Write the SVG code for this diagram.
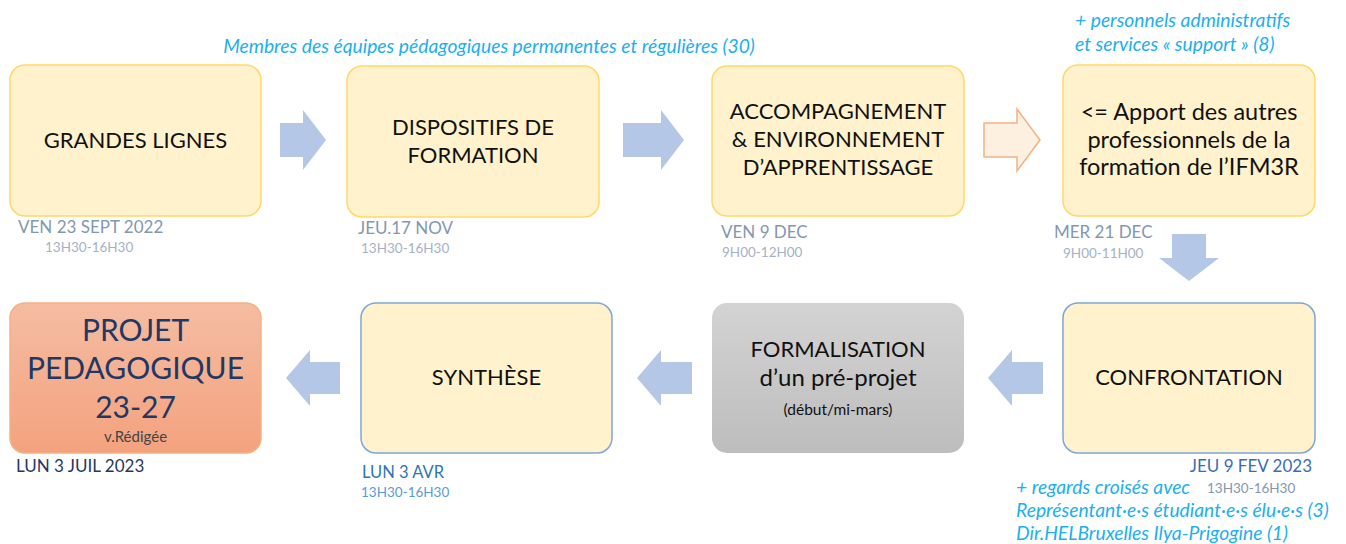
<svg xmlns="http://www.w3.org/2000/svg" width="1346" height="544" viewBox="0 0 1346 544">
<defs>
<linearGradient id="gOr" x1="0" y1="0" x2="0" y2="1"><stop offset="0" stop-color="#F5BCA2"/><stop offset="1" stop-color="#F4A27E"/></linearGradient>
<linearGradient id="gGr" x1="0" y1="0" x2="0" y2="1"><stop offset="0" stop-color="#D3D3D3"/><stop offset="1" stop-color="#BDBDBD"/></linearGradient>
<style>
text{font-family:Lato,"Liberation Sans",sans-serif}
.box{fill:#FFF2CC;stroke:#FFD966;stroke-width:1.5}
.boxb{fill:#FFF2CC;stroke:#7EA6D8;stroke-width:1.5}
.arr{fill:#B4C7E7}
.t{font-size:22px;fill:#111;text-anchor:middle}
.m{font-size:23.5px}
.date{font-size:17px;fill:#8497B0}
.time{font-size:13.5px;fill:#A6B2C4}
.note{font-size:19.3px;fill:#1CB0EE;font-style:italic}
</style>
</defs>
<rect width="1346" height="544" fill="#fff"/>
<g id="connectors">
<path class="arr" d="M280,123 H303 V110 L326,140 L303,170 V157 H280 Z"/>
<path class="arr" d="M623,123 H661 V110 L684,140 L661,170 V157 H623 Z"/>
<path d="M984,123 H1017 V109 L1040,140 L1017,171 V157 H984 Z" fill="#FDF0E0" stroke="#F4B183" stroke-width="1.5"/>
<path class="arr" d="M1172,234 H1206 V258 H1219 L1189,281 L1159,258 H1172 Z"/>
<path class="arr" d="M1043,362 H1012 V350 L988,378 L1012,406 V394 H1043 Z"/>
<path class="arr" d="M692,362 H661 V350 L637,378 L661,406 V394 H692 Z"/>
<path class="arr" d="M340,362 H310 V350 L286,378 L310,406 V394 H340 Z"/>
</g>
<text class="note" x="489" y="53" text-anchor="middle">Membres des équipes pédagogiques permanentes et régulières (30)</text>
<text class="note" x="1075" y="27">+ personnels administratifs</text>
<text class="note" x="1075" y="51">et services « support » (8)</text>
<g id="n1">
<rect class="box" x="10" y="65" width="251" height="151" rx="15"/>
<text class="t" x="135.5" y="148">GRANDES LIGNES</text>
<text class="date" x="18" y="233">VEN 23 SEPT 2022</text>
<text class="time" x="45" y="252">13H30-16H30</text>
</g>
<g id="n2">
<rect class="box" x="347" y="66" width="252" height="151" rx="15"/>
<text class="t" x="473" y="135">DISPOSITIFS DE</text>
<text class="t" x="473" y="163">FORMATION</text>
<text class="date" x="358" y="234">JEU.17 NOV</text>
<text class="time" x="361" y="253">13H30-16H30</text>
</g>
<g id="n3">
<rect class="box" x="712" y="66" width="252" height="150" rx="15"/>
<text class="t" x="838" y="119">ACCOMPAGNEMENT</text>
<text class="t" x="838" y="147">&amp; ENVIRONNEMENT</text>
<text class="t" x="838" y="175">D’APPRENTISSAGE</text>
<text class="date" x="721" y="238">VEN 9 DEC</text>
<text class="time" x="722" y="257">9H00-12H00</text>
</g>
<g id="n4">
<rect class="box" x="1063" y="65" width="252" height="151" rx="15"/>
<text class="t m" x="1189" y="120">&lt;= Apport des autres</text>
<text class="t m" x="1189" y="148">professionnels de la</text>
<text class="t m" x="1189" y="175">formation de l’IFM3R</text>
<text class="date" x="1054" y="238">MER 21 DEC</text>
<text class="time" x="1063" y="258">9H00-11H00</text>
</g>
<g id="n5">
<rect x="10" y="303" width="251" height="150" rx="15" fill="url(#gOr)" stroke="#F4B183" stroke-width="1.5"/>
<text class="t" x="135.5" y="341" style="font-size:30px;fill:#1F3864">PROJET</text>
<text class="t" x="135.5" y="379" style="font-size:30px;fill:#1F3864">PEDAGOGIQUE</text>
<text class="t" x="135.5" y="418" style="font-size:30px;fill:#1F3864">23-27</text>
<text class="t" x="135.5" y="442" style="font-size:15px;fill:#444">v.Rédigée</text>
<text class="date" x="16" y="472" style="fill:#1F3864">LUN 3 JUIL 2023</text>
</g>
<g id="n6">
<rect class="boxb" x="361" y="303" width="251" height="150" rx="15"/>
<text class="t" x="486.5" y="385">SYNTHÈSE</text>
<text class="date" x="362" y="478" style="fill:#2E75B6;font-size:16.5px">LUN 3 AVR</text>
<text class="time" x="361" y="497" style="fill:#5B9BD5">13H30-16H30</text>
</g>
<g id="n7">
<rect x="712" y="303" width="252" height="150" rx="15" fill="url(#gGr)"/>
<text class="t" x="838" y="357">FORMALISATION</text>
<text class="t" x="838" y="386" style="font-size:24px">d’un pré-projet</text>
<text class="t" x="838" y="415" style="font-size:15.5px">(début/mi-mars)</text>
</g>
<g id="n8">
<rect class="boxb" x="1063" y="303" width="252" height="150" rx="15"/>
<text class="t" x="1189" y="385">CONFRONTATION</text>
<text class="date" x="1312" y="472" text-anchor="end" style="fill:#3B6DAF">JEU 9 FEV 2023</text>
<text class="time" x="1207" y="493" style="fill:#8497B0">13H30-16H30</text>
</g>
<text class="note" x="1016" y="494">+ regards croisés avec</text>
<text class="note" x="1016" y="517">Représentant·e·s étudiant·e·s élu·e·s (3)</text>
<text class="note" x="1016" y="540">Dir.HELBruxelles Ilya-Prigogine (1)</text>
</svg>
